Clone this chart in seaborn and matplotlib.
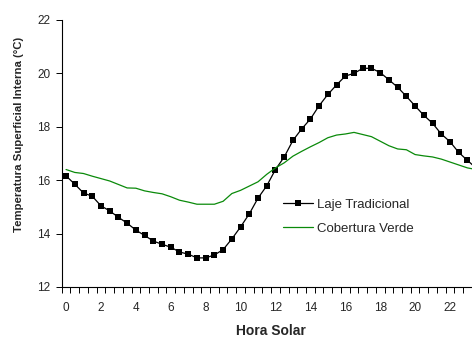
import numpy as np
import pandas as pd
import matplotlib
matplotlib.use("Agg")
import matplotlib.pyplot as plt
from matplotlib.ticker import FixedLocator
import seaborn as sns

# ── data (half-hourly readings) ──────────────────────────────────
HOURS = [i * 0.5 for i in range(48)]

LAJE = [16.16, 15.85, 15.52, 15.40, 15.04, 14.85, 14.61, 14.39,
        14.13, 13.93, 13.72, 13.60, 13.49, 13.31, 13.23, 13.09,
        13.09, 13.20, 13.40, 13.80, 14.25, 14.74, 15.33, 15.79,
        16.40, 16.87, 17.49, 17.92, 18.29, 18.79, 19.21, 19.57,
        19.90, 20.00, 20.19, 20.19, 20.03, 19.76, 19.48, 19.14,
        18.78, 18.43, 18.13, 17.73, 17.44, 17.04, 16.74, 16.45]

VERDE = [16.40, 16.29, 16.25, 16.15, 16.06, 15.97, 15.84, 15.71,
         15.70, 15.60, 15.54, 15.49, 15.38, 15.25, 15.18, 15.10,
         15.10, 15.10, 15.21, 15.50, 15.62, 15.78, 15.94, 16.22,
         16.46, 16.65, 16.90, 17.08, 17.25, 17.41, 17.59, 17.69,
         17.73, 17.79, 17.71, 17.63, 17.46, 17.29, 17.17, 17.14,
         16.96, 16.91, 16.87, 16.79, 16.68, 16.57, 16.46, 16.40]

SERIES = ["Laje Tradicional", "Cobertura Verde"]
X_LABELS = list(range(0, 23, 2))
Y_TICKS = list(range(12, 23, 2))

df = pd.DataFrame({
    "hora": HOURS * 2,
    "temp": LAJE + VERDE,
    "serie": [SERIES[0]] * len(LAJE) + [SERIES[1]] * len(VERDE),
})

sns.set_style("white")
plt.rcParams["font.family"] = ["Liberation Sans", "DejaVu Sans"]

fig = plt.figure(figsize=(4.72, 3.37), dpi=100)
ax = fig.add_axes([0.1307, 0.1484, 0.8693, 0.7923])

sns.lineplot(data=df[df["serie"] == SERIES[0]], x="hora", y="temp",
             ax=ax, color="black", linewidth=0.9, marker="s",
             markersize=4.6, markeredgewidth=0, label=SERIES[0])
sns.lineplot(data=df[df["serie"] == SERIES[1]], x="hora", y="temp",
             ax=ax, color="#0a8a0a", linewidth=0.9, label=SERIES[1])

# plot area continues past the right edge (chart is cropped there)
ax.set_xlim(-0.25, 23.26)
ax.set_ylim(12, 22)
ax.set_xticks(X_LABELS)
ax.xaxis.set_minor_locator(FixedLocator(np.arange(-0.25, 24, 0.5)))
ax.set_yticks(Y_TICKS)
ax.tick_params(axis="x", which="major", length=0, labelsize=8.5, pad=11)
ax.tick_params(axis="x", which="minor", length=4, width=0.7,
               direction="out", bottom=True, color="black")
ax.tick_params(axis="y", length=4, width=0.7, direction="out", left=True,
               labelsize=8.5, pad=4, color="black")

ax.set_xlabel("Hora Solar", fontsize=10, fontweight="bold")
ax.xaxis.set_label_coords(0.5095, -0.14)
ax.set_ylabel("Temperatura Superficial Interna (°C)", fontsize=8.2,
              fontweight="bold")
ax.yaxis.set_label_coords(-0.093, 0.57)

for side in ["top", "right"]:
    ax.spines[side].set_visible(False)
for side in ["left", "bottom"]:
    ax.spines[side].set_color("black")
    ax.spines[side].set_linewidth(0.8)

ax.legend(frameon=False, fontsize=9.5, loc="upper left",
          bbox_to_anchor=(0.539, 0.33), handlelength=2.3,
          handletextpad=0.3, labelspacing=0.85, borderpad=0,
          borderaxespad=0)

fig.savefig("out.png", dpi=100)
